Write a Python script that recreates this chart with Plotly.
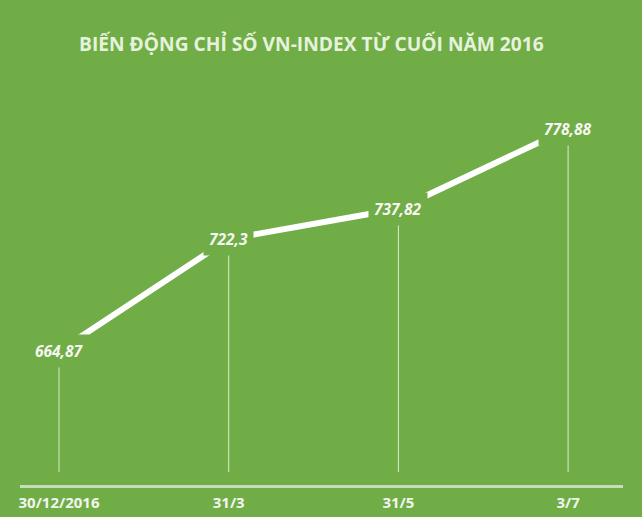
import plotly.graph_objects as go

categories = ["30/12/2016", "31/3", "31/5", "3/7"]
values = [664.87, 722.3, 737.82, 778.88]
value_labels = ["664,87", "722,3", "737,82", "778,88"]
title_text = "BIẾN ĐỘNG CHỈ SỐ VN-INDEX TỪ CUỐI NĂM 2016"

BG = "#70AD47"
x_idx = list(range(len(categories)))

# axis scale
px_per_unit = 1.95
plot_h = 385
y_min = values[0] - 134 / px_per_unit
y_max = y_min + plot_h / px_per_unit
drop_base = y_min + 13 / px_per_unit

fig = go.Figure()

# drop lines
for xi, v in zip(x_idx, values):
    fig.add_trace(go.Scatter(
        x=[xi, xi], y=[drop_base, v], mode="lines",
        line=dict(color="rgba(255,255,255,0.75)", width=1),
        hoverinfo="skip", showlegend=False))

# main line
fig.add_trace(go.Scatter(
    x=x_idx, y=values, mode="lines",
    line=dict(color="white", width=6),
    hoverinfo="skip", showlegend=False))

# value labels with background mask
for xi, v, t in zip(x_idx, values, value_labels):
    fig.add_annotation(
        x=xi, y=v, xref="x", yref="y", text=f"<b><i>{t}</i></b>",
        showarrow=False, bgcolor=BG, borderpad=5,
        font=dict(family="Open Sans", size=15.5, color="#F7F7F2"))

fig.add_annotation(
    x=0.483, xref="paper", yref="paper", yanchor="middle",
    y=1 + (100 - 44) / plot_h,
    text=f"<b>{title_text}</b>", showarrow=False,
    font=dict(family="Open Sans", size=19.2, color="#E6F2DC"))

fig.update_layout(
    width=642, height=517,
    paper_bgcolor=BG, plot_bgcolor=BG,
    margin=dict(l=20, r=19, t=100, b=32),
    showlegend=False,
    xaxis=dict(
        range=[-0.2298, 3.3235],
        tickmode="array", tickvals=x_idx,
        ticktext=[f"<b>{c}</b>" for c in categories],
        tickfont=dict(family="Open Sans", size=15, color="#F2F5EE"),
        showgrid=False, zeroline=False, automargin=False,
        showline=True, linecolor="#C8DCB9", linewidth=3,
        ticks="", ticklabelstandoff=2,
        fixedrange=True),
    yaxis=dict(range=[y_min, y_max], visible=False, fixedrange=True,
               automargin=False),
)

fig.write_html(
    "out.html",
    config={"displayModeBar": False},
    post_script="document.body.style.margin='0';document.body.style.background='#70AD47';",
)
